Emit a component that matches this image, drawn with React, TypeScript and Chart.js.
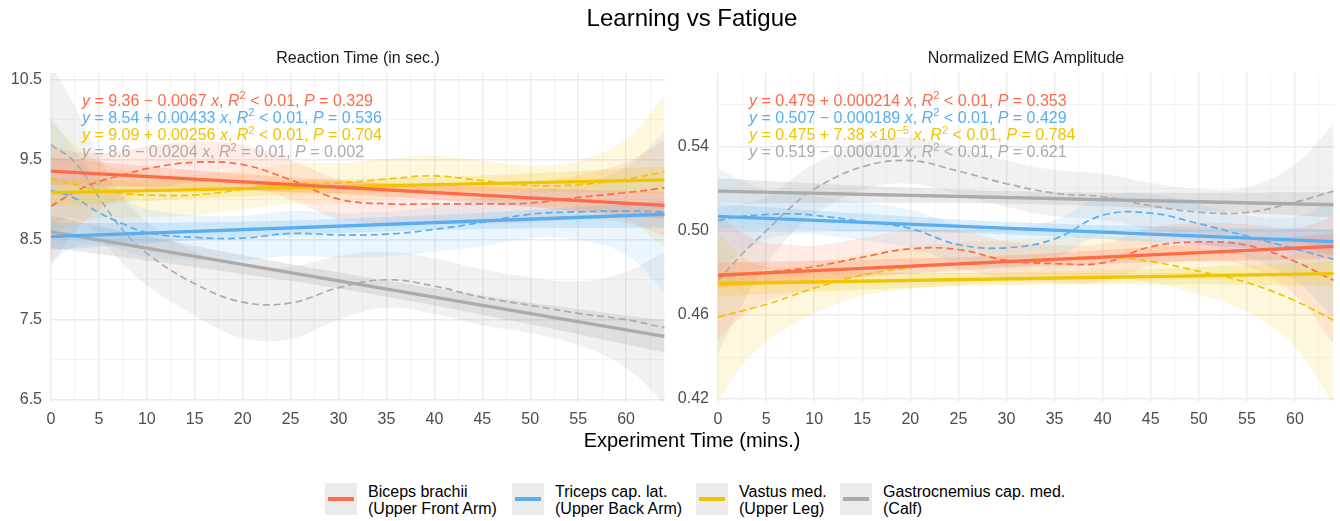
import React, { useEffect, useRef } from "react";
import { Chart, registerables } from "chart.js";

Chart.register(...registerables);

const FONT = '"Liberation Sans", Arial, Helvetica, sans-serif';

// ---------- series ----------
const seriesNames = ["Biceps brachii", "Triceps cap. lat.", "Vastus med.", "Gastrocnemius cap. med."];
const seriesSubs = ["(Upper Front Arm)", "(Upper Back Arm)", "(Upper Leg)", "(Calf)"];
const seriesColors = ["#FF6A48", "#5AAEEE", "#F0C400", "#ABABAB"];
const bandRGB = ["255,106,72", "90,174,238", "240,196,0", "150,150,150"];

// ---------- x positions ----------
const loessX = [0, 2.5, 5, 7.5, 10, 15, 20, 25, 30, 35, 40, 45, 50, 55, 60, 64];
const lineX = [0, 64];
const bandX = [0, 16, 32, 48, 64];

// ---------- Reaction Time (in sec.) ----------
const rtLine = [
  [9.36, 8.93],
  [8.54, 8.82],
  [9.09, 9.25],
  [8.6, 7.29],
];
const rtLineLo = [
  [9.19, 9.14, 9.06, 8.93, 8.76],
  [8.37, 8.5, 8.59, 8.64, 8.65],
  [8.92, 9.02, 9.09, 9.1, 9.08],
  [8.4, 8.14, 7.85, 7.49, 7.09],
];
const rtLineHi = [
  [9.53, 9.36, 9.23, 9.15, 9.1],
  [8.71, 8.72, 8.77, 8.86, 8.99],
  [9.26, 9.24, 9.26, 9.32, 9.42],
  [8.8, 8.4, 8.05, 7.75, 7.49],
];
const rtLoess = [
  [8.92, 9.1, 9.23, 9.31, 9.39, 9.47, 9.44, 9.25, 9.01, 8.95, 8.95, 8.95, 8.96, 9.03, 9.09, 9.15],
  [9.12, 9.02, 8.84, 8.7, 8.59, 8.53, 8.52, 8.58, 8.56, 8.57, 8.63, 8.72, 8.82, 8.85, 8.86, 8.85],
  [9.27, 9.19, 9.12, 9.08, 9.06, 9.06, 9.13, 9.2, 9.21, 9.26, 9.3, 9.24, 9.18, 9.19, 9.26, 9.35],
  [9.69, 9.47, 9.03, 8.62, 8.33, 7.95, 7.72, 7.71, 7.9, 8.0, 7.92, 7.78, 7.68, 7.58, 7.5, 7.4],
];
const rtLoessLo = [
  [8.17, 8.6, 8.88, 9.01, 9.11, 9.22, 9.19, 9.0, 8.76, 8.7, 8.7, 8.7, 8.71, 8.75, 8.71, 8.55],
  [8.22, 8.42, 8.44, 8.37, 8.29, 8.25, 8.24, 8.3, 8.28, 8.29, 8.35, 8.42, 8.52, 8.5, 8.31, 7.85],
  [8.57, 8.69, 8.77, 8.78, 8.78, 8.81, 8.88, 8.95, 8.96, 9.01, 9.05, 8.99, 8.93, 8.89, 8.76, 8.4],
  [8.69, 8.77, 8.53, 8.2, 7.93, 7.55, 7.27, 7.26, 7.5, 7.65, 7.57, 7.43, 7.33, 7.18, 6.9, 6.45],
];
const rtLoessHi = [
  [9.67, 9.6, 9.58, 9.61, 9.67, 9.72, 9.69, 9.5, 9.26, 9.2, 9.2, 9.2, 9.21, 9.31, 9.47, 9.75],
  [10.02, 9.62, 9.24, 9.03, 8.89, 8.81, 8.8, 8.86, 8.84, 8.85, 8.91, 9.02, 9.12, 9.2, 9.41, 9.85],
  [9.97, 9.69, 9.47, 9.38, 9.34, 9.31, 9.38, 9.45, 9.46, 9.51, 9.55, 9.49, 9.43, 9.49, 9.76, 10.3],
  [10.69, 10.17, 9.53, 9.04, 8.73, 8.35, 8.17, 8.16, 8.3, 8.35, 8.27, 8.13, 8.03, 7.98, 8.1, 8.35],
];

// ---------- Normalized EMG Amplitude ----------
const emgLine = [
  [0.479, 0.4927],
  [0.507, 0.4949],
  [0.475, 0.4797],
  [0.519, 0.5125],
];
const emgLineLo = [
  [0.473, 0.4784, 0.4828, 0.4853, 0.4867],
  [0.501, 0.5, 0.498, 0.4939, 0.4889],
  [0.469, 0.4722, 0.4744, 0.4745, 0.4737],
  [0.513, 0.5134, 0.5128, 0.5102, 0.5065],
];
const emgLineHi = [
  [0.485, 0.4864, 0.4888, 0.4933, 0.4987],
  [0.513, 0.508, 0.504, 0.5019, 0.5009],
  [0.481, 0.4802, 0.4804, 0.4825, 0.4857],
  [0.525, 0.5214, 0.5188, 0.5182, 0.5185],
];
const emgLoess = [
  [0.4784, 0.4792, 0.4803, 0.4815, 0.483, 0.4875, 0.4915, 0.4912, 0.486, 0.4845, 0.4848, 0.4925, 0.4948, 0.4932, 0.4855, 0.4765],
  [0.505, 0.507, 0.5078, 0.5082, 0.5075, 0.5045, 0.5012, 0.4935, 0.492, 0.4962, 0.5075, 0.5085, 0.5035, 0.4975, 0.4915, 0.4865],
  [0.459, 0.462, 0.465, 0.4688, 0.4728, 0.479, 0.4825, 0.4843, 0.4857, 0.4869, 0.4876, 0.4855, 0.4808, 0.4755, 0.4668, 0.4575],
  [0.4765, 0.489, 0.5, 0.511, 0.52, 0.5305, 0.5335, 0.5285, 0.5225, 0.518, 0.5163, 0.512, 0.509, 0.5088, 0.5137, 0.519],
];
const emgLoessLo = [
  [0.4484, 0.4592, 0.4663, 0.4695, 0.473, 0.4785, 0.4825, 0.4822, 0.477, 0.4755, 0.4758, 0.4835, 0.4858, 0.4832, 0.4695, 0.4465],
  [0.48, 0.49, 0.4958, 0.4982, 0.4985, 0.4955, 0.4922, 0.485, 0.483, 0.4872, 0.4985, 0.4995, 0.4945, 0.4875, 0.4765, 0.4585],
  [0.419, 0.436, 0.447, 0.4548, 0.4608, 0.469, 0.4725, 0.4743, 0.4757, 0.4769, 0.4776, 0.4755, 0.4698, 0.4615, 0.4448, 0.4175],
  [0.4415, 0.465, 0.484, 0.498, 0.508, 0.5195, 0.5225, 0.5175, 0.5115, 0.507, 0.5053, 0.501, 0.498, 0.4968, 0.4957, 0.487],
];
const emgLoessHi = [
  [0.5084, 0.4992, 0.4943, 0.4935, 0.493, 0.4965, 0.5005, 0.5002, 0.495, 0.4935, 0.4938, 0.5015, 0.5038, 0.5032, 0.5015, 0.5065],
  [0.53, 0.524, 0.5198, 0.5182, 0.5165, 0.5135, 0.5102, 0.503, 0.501, 0.5052, 0.5165, 0.5175, 0.5125, 0.5075, 0.5065, 0.5145],
  [0.499, 0.488, 0.483, 0.4828, 0.4848, 0.489, 0.4925, 0.4943, 0.4957, 0.4969, 0.4976, 0.4955, 0.4918, 0.4895, 0.4888, 0.4975],
  [0.5115, 0.513, 0.516, 0.524, 0.532, 0.5415, 0.5445, 0.5395, 0.5335, 0.529, 0.5273, 0.523, 0.52, 0.5208, 0.5317, 0.551],
];

// ---------- equation texts ----------
const rtIntercepts = ["9.36", "8.54", "9.09", "8.6"];
const rtSlopes = ["− 0.0067", "+ 0.00433", "+ 0.00256", "− 0.0204"];
const rtR2 = ["< 0.01", "< 0.01", "< 0.01", "= 0.01"];
const rtP = ["0.329", "0.536", "0.704", "0.002"];
const emgIntercepts = ["0.479", "0.507", "0.475", "0.519"];
const emgSlopes = ["+ 0.000214", "− 0.000189", "+ 7.38 ×10^−5", "− 0.000101"];
const emgR2 = ["< 0.01", "< 0.01", "< 0.01", "< 0.01"];
const emgP = ["0.353", "0.429", "0.784", "0.621"];

const pts = (xs: number[], ys: number[]) => xs.map((x, i) => ({ x, y: ys[i] }));

function buildDatasets(line, lineLo, lineHi, loess, loessLo, loessHi) {
  const ds: any[] = [];
  const base = { pointRadius: 0, pointHoverRadius: 0 };
  for (let s = 0; s < 4; s++) {
    ds.push({ ...base, data: pts(loessX, loessHi[s]), borderWidth: 0, borderColor: "transparent", tension: 0.4, fill: "+1", backgroundColor: `rgba(${bandRGB[s]},0.13)`, order: 6 });
    ds.push({ ...base, data: pts(loessX, loessLo[s]), borderWidth: 0, borderColor: "transparent", tension: 0.4, fill: false, order: 6 });
  }
  for (let s = 0; s < 4; s++) {
    ds.push({ ...base, data: pts(bandX, lineHi[s]), borderWidth: 0, borderColor: "transparent", tension: 0.4, fill: "+1", backgroundColor: `rgba(${bandRGB[s]},0.2)`, order: 5 });
    ds.push({ ...base, data: pts(bandX, lineLo[s]), borderWidth: 0, borderColor: "transparent", tension: 0.4, fill: false, order: 5 });
  }
  for (let s = 0; s < 4; s++) {
    ds.push({ ...base, data: pts(loessX, loess[s]), borderColor: seriesColors[s], borderWidth: 1.7, borderDash: [7, 4], tension: 0.4, fill: false, order: 2 });
  }
  for (let s = 0; s < 4; s++) {
    ds.push({ ...base, data: pts(lineX, line[s]), borderColor: seriesColors[s], borderWidth: 3.3, tension: 0, fill: false, order: 1 });
  }
  return ds;
}

const MAJOR = "#EBEBEB";
const MINOR = "#F1F1F1";
const TICK_COLOR = "#4D4D4D";

function Panel(props: any) {
  const { left, width, height, padRight, yAxisW, yMin, yMax, yStep, isMajorY, fmtY, datasets } = props;
  const ref = useRef<HTMLCanvasElement>(null);
  useEffect(() => {
    const isMajorX = (v: number) => Math.round(v * 2) % 10 === 0;
    const chart = new Chart(ref.current as HTMLCanvasElement, {
      type: "line",
      data: { datasets },
      options: {
        responsive: false,
        animation: false,
        events: [],
        layout: { padding: { top: 73, right: padRight, left: 0, bottom: 0 } },
        plugins: { legend: { display: false }, tooltip: { enabled: false }, title: { display: false } },
        scales: {
          x: {
            type: "linear",
            min: 0,
            max: 64.06,
            border: { display: false },
            grid: {
              drawTicks: false,
              color: (c: any) => (c.tick && isMajorX(c.tick.value) ? MAJOR : MINOR),
              lineWidth: (c: any) => (c.tick && isMajorX(c.tick.value) ? 1.4 : 0.8),
            },
            ticks: {
              stepSize: 2.5,
              autoSkip: false,
              maxRotation: 0,
              includeBounds: false,
              padding: 8,
              color: TICK_COLOR,
              font: { family: FONT, size: 16 },
              callback: (v: any) => (isMajorX(Number(v)) ? String(Math.round(Number(v))) : ""),
            },
            afterFit: (s: any) => {
              s.height = 38;
            },
          },
          y: {
            type: "linear",
            min: yMin,
            max: yMax,
            border: { display: false },
            grid: {
              drawTicks: false,
              color: (c: any) => (c.tick && isMajorY(c.tick.value) ? MAJOR : MINOR),
              lineWidth: (c: any) => (c.tick && isMajorY(c.tick.value) ? 1.4 : 0.8),
            },
            ticks: {
              stepSize: yStep,
              autoSkip: false,
              includeBounds: false,
              padding: 9,
              color: TICK_COLOR,
              font: { family: FONT, size: 16 },
              callback: (v: any) => (isMajorY(Number(v)) ? fmtY(Number(v)) : ""),
            },
            afterFit: (s: any) => {
              s.width = yAxisW;
            },
          },
        },
      } as any,
    });
    return () => chart.destroy();
  }, []);
  return (
    <canvas
      ref={ref}
      width={width}
      height={height}
      style={{ position: "absolute", left, top: 0, width, height }}
    />
  );
}

function Slope({ text }: { text: string }) {
  if (text.includes("^")) {
    const [a, b] = text.split("^");
    return (
      <>
        {a}
        <span style={{ fontSize: "0.7em", position: "relative", top: "-0.55em" }}>{b}</span>
      </>
    );
  }
  return <>{text}</>;
}

function Equations({ left, intercepts, slopes, r2, p }: any) {
  return (
    <div
      style={{
        position: "absolute",
        left,
        top: 92.5,
        fontFamily: FONT,
        fontSize: 16,
        lineHeight: "16.1px",
        whiteSpace: "nowrap",
      }}
    >
      {intercepts.map((ic: string, i: number) => (
        <div key={i} style={{ color: seriesColors[i] }}>
          <i>y</i> = {ic} <Slope text={slopes[i]} /> <i>x</i>, <i>R</i>
          <span style={{ fontSize: "0.7em", position: "relative", top: "-0.55em" }}>2</span> {r2[i]}, <i>P</i> = {p[i]}
        </div>
      ))}
    </div>
  );
}

const legendKeyX = [325, 512, 696, 840];
const legendTextX = [368, 555, 739, 883];

function centered(x: number, y: number, size: number, text: string, color = "#000") {
  return (
    <div
      style={{
        position: "absolute",
        left: x,
        top: y,
        transform: "translate(-50%, -50%)",
        fontFamily: FONT,
        fontSize: size,
        lineHeight: 1,
        whiteSpace: "nowrap",
        color,
      }}
    >
      {text}
    </div>
  );
}

export default function App() {
  const rtDatasets = buildDatasets(rtLine, rtLineLo, rtLineHi, rtLoess, rtLoessLo, rtLoessHi);
  const emgDatasets = buildDatasets(emgLine, emgLineLo, emgLineHi, emgLoess, emgLoessLo, emgLoessHi);
  return (
    <div style={{ position: "absolute", left: 0, top: 0, width: 1340, height: 521, background: "#fff", overflow: "hidden" }}>
      <Panel
        left={0}
        width={670}
        height={440}
        padRight={5}
        yAxisW={51}
        yMin={6.47}
        yMax={10.5875}
        yStep={0.5}
        isMajorY={(v: number) => Math.abs(Math.round(v * 2)) % 2 === 1}
        fmtY={(v: number) => v.toFixed(1)}
        datasets={rtDatasets}
      />
      <Panel
        left={670}
        width={670}
        height={440}
        padRight={6}
        yAxisW={48}
        yMin={0.4186}
        yMax={0.5752}
        yStep={0.02}
        isMajorY={(v: number) => Math.round(v * 100) % 4 === 2}
        fmtY={(v: number) => v.toFixed(2)}
        datasets={emgDatasets}
      />
      {centered(692, 18, 24, "Learning vs Fatigue")}
      {centered(358, 58, 16, "Reaction Time (in sec.)", "#1A1A1A")}
      {centered(1026, 58, 16, "Normalized EMG Amplitude", "#1A1A1A")}
      {centered(692, 440, 20, "Experiment Time (mins.)")}
      <Equations left={82} intercepts={rtIntercepts} slopes={rtSlopes} r2={rtR2} p={rtP} />
      <Equations left={749} intercepts={emgIntercepts} slopes={emgSlopes} r2={emgR2} p={emgP} />
      {seriesNames.map((name, i) => (
        <React.Fragment key={name}>
          <div style={{ position: "absolute", left: legendKeyX[i], top: 483, width: 32, height: 32, background: "#EBEBEB" }}>
            <div style={{ position: "absolute", left: 3, top: 14, width: 26, height: 4, background: seriesColors[i] }} />
          </div>
          <div
            style={{
              position: "absolute",
              left: legendTextX[i],
              top: 482.5,
              fontFamily: FONT,
              fontSize: 16,
              lineHeight: "17px",
              whiteSpace: "nowrap",
              color: "#000",
            }}
          >
            <div>{name}</div>
            <div>{seriesSubs[i]}</div>
          </div>
        </React.Fragment>
      ))}
    </div>
  );
}
